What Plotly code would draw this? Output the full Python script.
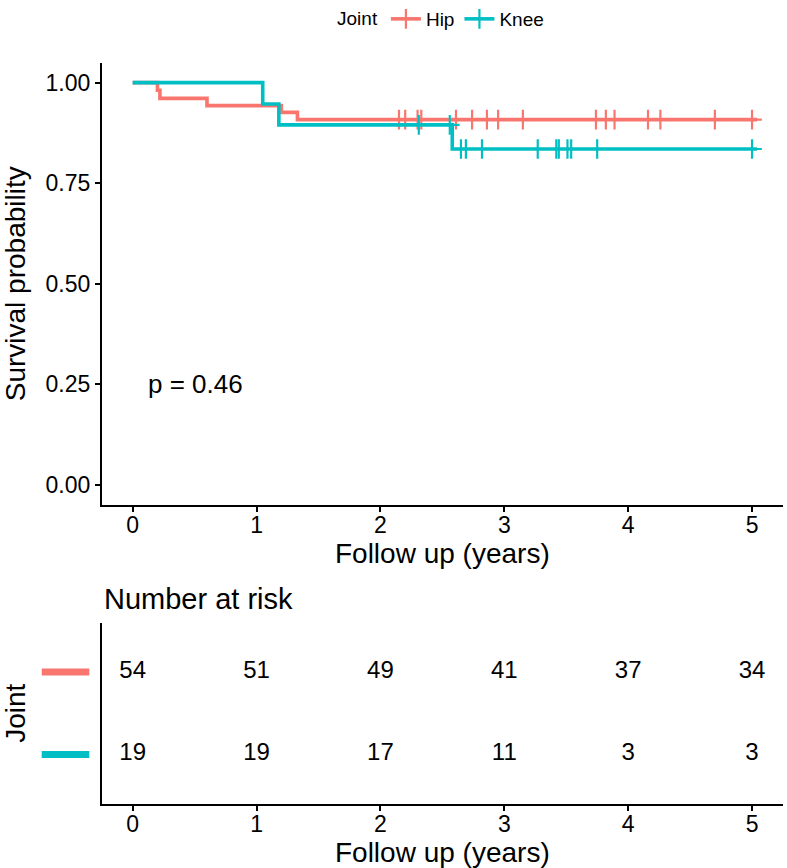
import numpy as np
import plotly.graph_objects as go

# ---------------- data ----------------
groups = ["Hip", "Knee"]
colors = {"Hip": "#F8766D", "Knee": "#00BFC4"}

hip_event_times = [0.20, 0.22, 0.60, 1.20, 1.33]
hip_surv_after = [0.981, 0.961, 0.943, 0.926, 0.908]
hip_censor_times = [2.15, 2.20, 2.30, 2.33, 2.61, 2.74, 2.86, 2.95, 3.15,
                    3.74, 3.82, 3.89, 4.16, 4.26, 4.70, 5.00]
hip_end_time = 5.04

knee_event_times = [1.05, 1.18, 2.58]
knee_surv_after = [0.947, 0.895, 0.835]
knee_censor_times = [2.31, 2.56, 2.65, 2.69, 2.82, 3.27, 3.42, 3.44, 3.51,
                     3.54, 3.75, 5.00]
knee_end_time = 5.04

risk_times = [0, 1, 2, 3, 4, 5]
risk_hip = [54, 51, 49, 41, 37, 34]
risk_knee = [19, 19, 17, 11, 3, 3]

x_ticks = [0, 1, 2, 3, 4, 5]
y_ticks = [0, 0.25, 0.5, 0.75, 1.0]
y_ticklabels = ["0.00", "0.25", "0.50", "0.75", "1.00"]
p_value_text = "p = 0.46"

curves = {
    "Hip": (hip_event_times, hip_surv_after, hip_censor_times, hip_end_time),
    "Knee": (knee_event_times, knee_surv_after, knee_censor_times, knee_end_time),
}
risk = {"Hip": risk_hip, "Knee": risk_knee}

FONT = "Liberation Sans, Arial, Helvetica, sans-serif"
W, H = 787, 868


def px_x(p):
    return p / W


def px_y(p):
    return 1 - p / H


fig = go.Figure()

for g in groups:
    ev_t, ev_s, cen_t, end_t = curves[g]
    xs = [0.0] + list(ev_t) + [end_t]
    ys = [1.0] + list(ev_s) + [ev_s[-1]]
    fig.add_trace(go.Scatter(
        x=xs, y=ys, mode="lines", line=dict(color=colors[g], width=3.6, shape="hv"),
        showlegend=False, hoverinfo="skip", xaxis="x", yaxis="y"))
    # censor marks: y from step function
    step_t = np.array([0.0] + list(ev_t))
    step_s = np.array([1.0] + list(ev_s))
    idx = np.searchsorted(step_t, np.array(cen_t), side="right") - 1
    fig.add_trace(go.Scatter(
        x=cen_t, y=step_s[idx], mode="markers",
        marker=dict(symbol="cross-thin", size=14, line=dict(color=colors[g], width=2.2)),
        showlegend=False, hoverinfo="skip", xaxis="x", yaxis="y"))
    # legend entry
    fig.add_trace(go.Scatter(
        x=[None], y=[None], mode="lines+markers", name=g,
        line=dict(color=colors[g], width=3.6),
        marker=dict(symbol="cross-thin", size=14, line=dict(color=colors[g], width=2.2)),
        xaxis="x", yaxis="y"))

# risk table numbers
for g in groups:
    fig.add_trace(go.Scatter(
        x=risk_times, y=[g] * len(risk_times), mode="text",
        text=[str(v) for v in risk[g]],
        textfont=dict(family=FONT, size=24, color="black"),
        showlegend=False, hoverinfo="skip", xaxis="x2", yaxis="y2"))

xdom = [px_x(101.7), px_x(783)]
axis_common = dict(showline=True, linecolor="black", linewidth=1.6, showgrid=False,
                   zeroline=False, ticks="outside", ticklen=5, tickwidth=1.5,
                   tickcolor="black", tickfont=dict(family=FONT, size=23, color="black"),
                   automargin=False)

fig.update_layout(
    width=W, height=H,
    margin=dict(l=0, r=0, t=0, b=0),
    paper_bgcolor="white", plot_bgcolor="white",
    font=dict(family=FONT, color="black"),
    xaxis=dict(domain=xdom, range=[-0.25, 5.25], tickvals=x_ticks, anchor="y",
               ticklabelstandoff=-6,
               title=dict(text="Follow up (years)", font=dict(size=28), standoff=0),
               **axis_common),
    yaxis=dict(domain=[px_y(502), px_y(56)], range=[-0.05, 1.05], tickvals=y_ticks,
               ticktext=y_ticklabels, anchor="x",
               title=dict(text="Survival probability", font=dict(size=28), standoff=19),
               **axis_common),
    xaxis2=dict(domain=xdom, range=[-0.25, 5.25], tickvals=x_ticks, anchor="y2",
                ticklabelstandoff=-6,
                title=dict(text="Follow up (years)", font=dict(size=28), standoff=0),
                **axis_common),
    yaxis2=dict(domain=[px_y(803.3), px_y(620.7)], type="category",
                categoryorder="array", categoryarray=["Knee", "Hip"],
                range=[-0.6, 1.6], anchor="x2", showline=True, linecolor="black",
                linewidth=1.6, showgrid=False, zeroline=False, ticks="",
                showticklabels=False, automargin=False,
                title=dict(text="Joint", font=dict(size=28), standoff=68)),
    legend=dict(orientation="h", x=0.5617, xanchor="center", y=px_y(12), yanchor="middle",
                title=dict(text="Joint", font=dict(size=19)), font=dict(size=19),
                bgcolor="rgba(0,0,0,0)", itemwidth=30),
    annotations=[
        dict(text=p_value_text, x=0.11, y=0.25, xref="x", yref="y", xanchor="left",
             yanchor="middle", showarrow=False, font=dict(family=FONT, size=26, color="black")),
        dict(text="Number at risk", x=px_x(101.7), y=px_y(597), xref="paper", yref="paper",
             xanchor="left", yanchor="middle", showarrow=False,
             font=dict(family=FONT, size=29, color="black")),
    ],
    shapes=[
        dict(type="line", xref="paper", yref="y2", x0=px_x(41.7), x1=px_x(89.3),
             y0=g, y1=g, line=dict(color=colors[g], width=7))
        for g in groups
    ],
)

fig.write_html("out.html", config={"displayModeBar": False},
               post_script="document.body.style.margin='0';document.body.style.padding='0';")
